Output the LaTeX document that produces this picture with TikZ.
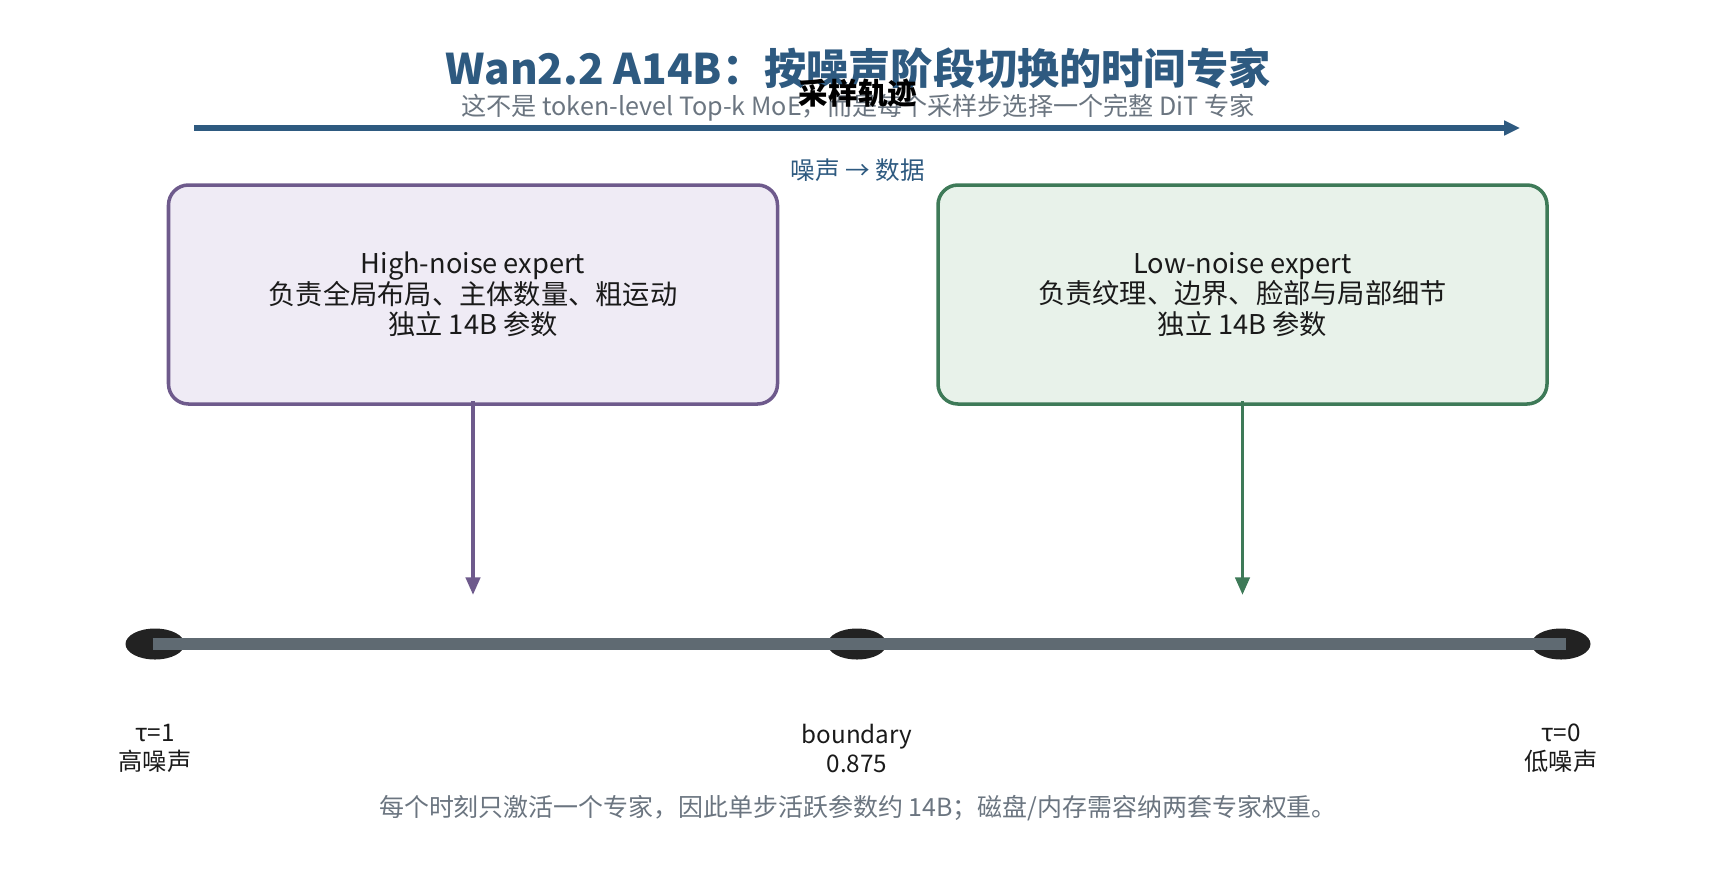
\documentclass[tikz,border=0pt]{standalone}
\usepackage{fontspec}
\setmainfont{Noto Sans CJK SC}
\usepackage{xcolor}
\usepackage{tikz}
\usetikzlibrary{arrows.meta,positioning,shapes.geometric,calc}
\definecolor{titleblue}{RGB}{46,90,128}
\definecolor{subgray}{RGB}{107,117,128}
\definecolor{hipurple}{RGB}{110,90,140}
\definecolor{hifill}{RGB}{239,235,245}
\definecolor{logreen}{RGB}{62,122,88}
\definecolor{lofill}{RGB}{232,242,234}
\definecolor{linegray}{RGB}{95,106,114}
\definecolor{dotblack}{RGB}{34,34,34}
\definecolor{textblack}{RGB}{26,26,26}

\begin{document}
\begin{tikzpicture}[
  expert/.style = {
    rectangle, rounded corners=0.4cm, line width=2pt,
    minimum width=12.18cm, minimum height=4.38cm,
    align=center, text=textblack, font=\fontsize{15.5}{17.5}\selectfont
  },
  tick/.style = {ellipse, fill=dotblack, minimum width=1.18cm, minimum height=0.62cm, inner sep=0pt},
  tlabel/.style = {align=center, text=textblack, font=\fontsize{13.8}{16.5}\selectfont},
  pick/.style = {-{Triangle[length=10pt,width=8pt]}, line width=2.2pt}
]
  \useasboundingbox (0,0) rectangle (34.34,-17.48);

  \node[font=\fontsize{24}{28}\selectfont\bfseries, text=titleblue] (title) at (17.16,-1.36) {Wan2.2 A14B：按噪声阶段切换的时间专家};
  \node[font=\fontsize{14.3}{16}\selectfont, text=subgray] (subtitle) at (17.16,-2.16) {这不是 token-level Top-k MoE，而是每个采样步选择一个完整 DiT 专家};

  \coordinate (noisy) at (3.88,-2.56);
  \coordinate (clean) at (30.4,-2.56);
  \draw[-{Triangle[length=9pt,width=8pt]}, line width=3pt, titleblue] (noisy) -- (clean);
  \node[font=\fontsize{16.8}{19}\selectfont\bfseries] (traj) at (17.16,-1.86) {采样轨迹};
  \node[font=\fontsize{14}{16}\selectfont, text=titleblue] (flow) at (17.16,-3.4) {噪声 → 数据};

  \node[expert, draw=hipurple, fill=hifill] (high) at (9.46,-5.89) {High-noise expert\\负责全局布局、主体数量、粗运动\\独立 14B 参数};
  \node[expert, draw=logreen, fill=lofill] (low) at (24.85,-5.89) {Low-noise expert\\负责纹理、边界、脸部与局部细节\\独立 14B 参数};

  \node[tick] (t1) at (3.1,-12.88) {};
  \node[tick] (bd) at (17.14,-12.88) {};
  \node[tick] (t0) at (31.22,-12.88) {};
  \draw[line width=6.5pt, linegray] ([xshift=-0.05cm]t1.center) -- ([xshift=0.1cm]t0.center);

  \coordinate (hiend) at (9.46,-11.9);
  \coordinate (loend) at (24.85,-11.9);
  \draw[pick, hipurple] ([yshift=0.1cm]high.south) -- (hiend);
  \draw[pick, logreen] ([yshift=0.1cm]low.south) -- (loend);

  \node[tlabel] (t1lab) at (3.1,-14.97) {τ=1\\高噪声};
  \node[tlabel] (bdlab) at (17.14,-14.97) {boundary\\0.875};
  \node[tlabel] (t0lab) at (31.22,-14.97) {τ=0\\低噪声};

  \node[font=\fontsize{14.2}{17}\selectfont, text=subgray] (note) at (17.16,-16.16) {每个时刻只激活一个专家，因此单步活跃参数约 14B；磁盘/内存需容纳两套专家权重。};
\end{tikzpicture}
\end{document}
